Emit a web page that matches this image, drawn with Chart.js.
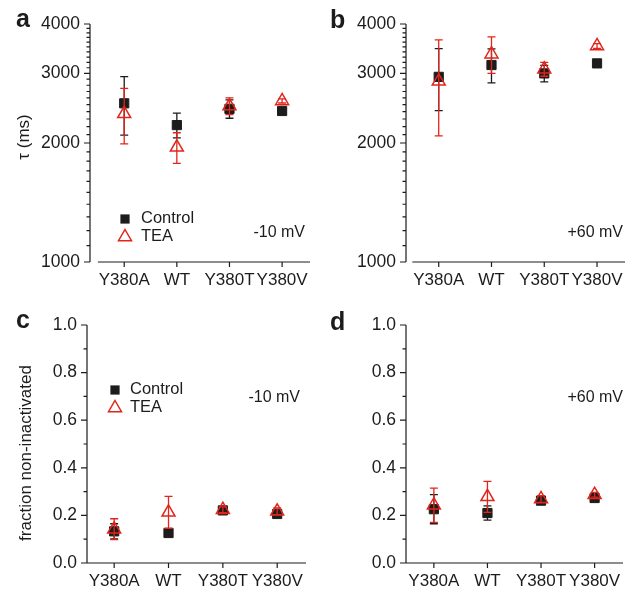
<!DOCTYPE html>
<html>
<head>
<meta charset="utf-8">
<script src="https://cdn.jsdelivr.net/npm/chart.js@4.4.0/dist/chart.umd.min.js"></script>
<style>
  body { margin: 0; background: #fff; }
  #wrap { position: relative; width: 638px; height: 592px; }
  canvas { position: absolute; }
</style>
</head>
<body>
<div id="wrap">
  <canvas id="tauNeg" width="319" height="296" style="left:0;top:0"></canvas>
  <canvas id="tauPos" width="319" height="296" style="left:319px;top:0"></canvas>
  <canvas id="fracNeg" width="319" height="296" style="left:0;top:296px"></canvas>
  <canvas id="fracPos" width="319" height="296" style="left:319px;top:296px"></canvas>
</div>
<script>
const mutants = ['Y380A', 'WT', 'Y380T', 'Y380V'];

// inactivation time constant (ms), mean and SEM
const tauCtrlNeg10 = [2520, 2220, 2440, 2410];
const tauCtrlNeg10Err = [425, 160, 130, 30];
const tauTeaNeg10 = [2370, 1950, 2480, 2555];
const tauTeaNeg10Err = [380, 173, 120, 30];

const tauCtrlPos60 = [2940, 3150, 3000, 3180];
const tauCtrlPos60Err = [525, 312, 145, 60];
const tauTeaPos60 = [2865, 3355, 3075, 3520];
const tauTeaPos60Err = [780, 355, 125, 50];

// fraction of current that does not inactivate, mean and SEM
const fracCtrlNeg10 = [0.133, 0.126, 0.221, 0.206];
const fracCtrlNeg10Err = [0.032, 0.01, 0.01, 0.012];
const fracTeaNeg10 = [0.142, 0.213, 0.224, 0.217];
const fracTeaNeg10Err = [0.044, 0.067, 0.012, 0.014];

const fracCtrlPos60 = [0.226, 0.21, 0.262, 0.273];
const fracCtrlPos60Err = [0.061, 0.03, 0.015, 0.01];
const fracTeaPos60 = [0.243, 0.278, 0.269, 0.287];
const fracTeaPos60Err = [0.072, 0.065, 0.014, 0.01];

// labelled ticks; minor ticks are filled in between
const tauMajor = [1000, 2000, 3000, 4000];
const fracMajor = [0, 0.2, 0.4, 0.6, 0.8, 1.0];

const tauTicks = [];
for (let v = 1000; v <= 4000; v += 100) tauTicks.push({ value: v, major: tauMajor.includes(v) });
const fracTicks = [];
for (let i = 0; i <= 10; i++) fracTicks.push({ value: i / 10, major: fracMajor.includes(i / 10) });

const RED = '#e1251b';
const INK = '#1c1c1c';
const FONT = "'Liberation Sans', Arial, Helvetica, sans-serif";

// vertical SEM bars with caps, drawn just under each dataset's markers
const errorBars = {
  id: 'errorBars',
  beforeDatasetDraw(chart, args) {
    const ds = chart.data.datasets[args.index];
    if (!ds.errors) return;
    const { ctx } = chart;
    const y = chart.scales.y;
    ctx.save();
    ctx.strokeStyle = ds.borderColor;
    ctx.lineWidth = 1.3;
    args.meta.data.forEach((pt, i) => {
      const v = ds.data[i].y, e = ds.errors[i];
      const top = y.getPixelForValue(v + e);
      const bot = y.getPixelForValue(v - e);
      ctx.beginPath();
      ctx.moveTo(pt.x, top); ctx.lineTo(pt.x, bot);
      ctx.moveTo(pt.x - 4, top); ctx.lineTo(pt.x + 4, top);
      ctx.moveTo(pt.x - 4, bot); ctx.lineTo(pt.x + 4, bot);
      ctx.stroke();
    });
    ctx.restore();
  }
};

function drawTriangle(ctx, x, y, r) {
  ctx.beginPath();
  ctx.moveTo(x, y - r);
  ctx.lineTo(x + 0.866 * r, y + 0.5 * r);
  ctx.lineTo(x - 0.866 * r, y + 0.5 * r);
  ctx.closePath();
  ctx.stroke();
}

// axis lines, tick marks, panel letter, voltage note, y title and legend
const frame = {
  id: 'frame',
  afterDraw(chart, args, o) {
    const { ctx, chartArea: area, scales: { x, y } } = chart;
    ctx.save();
    ctx.strokeStyle = INK;
    ctx.lineWidth = 1.2;
    ctx.beginPath();
    ctx.moveTo(area.left, area.top);
    ctx.lineTo(area.left, area.bottom);
    const x0 = o.axisFrom == null ? area.left : x.getPixelForValue(o.axisFrom);
    ctx.moveTo(x0, area.bottom);
    ctx.lineTo(area.right, area.bottom);
    x.ticks.forEach(t => {
      const px = x.getPixelForValue(t.value);
      ctx.moveTo(px, area.bottom);
      ctx.lineTo(px, area.bottom + 5);
    });
    y.ticks.forEach(t => {
      const py = y.getPixelForValue(t.value);
      ctx.moveTo(area.left, py);
      ctx.lineTo(area.left - (t.major ? 6 : 3.5), py);
    });
    ctx.stroke();

    ctx.fillStyle = INK;
    ctx.font = 'bold 25px ' + FONT;
    ctx.textAlign = 'left';
    ctx.textBaseline = 'alphabetic';
    ctx.fillText(o.letter.text, o.letter.x, o.letter.y);

    ctx.font = '16px ' + FONT;
    ctx.textAlign = 'right';
    ctx.textBaseline = 'middle';
    ctx.fillText(o.note.text, o.note.x, o.note.y);

    if (o.yTitle) {
      ctx.save();
      ctx.translate(o.yTitle.x, o.yTitle.y);
      ctx.rotate(-Math.PI / 2);
      ctx.textAlign = 'center';
      ctx.font = '17px ' + FONT;
      ctx.fillText(o.yTitle.text, 0, 0);
      ctx.restore();
    }

    if (o.legend) {
      const L = o.legend;
      const sets = chart.data.datasets;
      ctx.fillStyle = sets[0].backgroundColor;
      ctx.fillRect(L.x - 4.6, L.y - 4.6, 9.2, 9.2);
      ctx.strokeStyle = sets[1].borderColor;
      ctx.lineWidth = 1.5;
      drawTriangle(ctx, L.x, L.y + L.gap + 1, 7.5);
      ctx.fillStyle = INK;
      ctx.font = '16.5px ' + FONT;
      ctx.textAlign = 'left';
      ctx.fillText(sets[0].label, L.textX, L.y - 1);
      ctx.fillText(sets[1].label, L.textX, L.y + L.gap);
    }
    ctx.restore();
  }
};

function makePanel(id, cfg) {
  const toPoints = arr => arr.map((v, i) => ({ x: i, y: v }));
  const yScale = cfg.log ? {
    type: 'logarithmic', min: 1000, max: 4000,
    afterBuildTicks: s => { s.ticks = tauTicks.map(t => ({ ...t })); }
  } : {
    type: 'linear', min: 0, max: 1,
    afterBuildTicks: s => { s.ticks = fracTicks.map(t => ({ ...t })); }
  };
  Object.assign(yScale, {
    grid: { display: false, drawTicks: false },
    border: { display: false },
    afterFit: s => { s.width = cfg.yWidth; },
    ticks: {
      autoSkip: false, padding: 10, color: INK,
      font: { family: FONT, size: 17.5 },
      callback: (v, i, ticks) => ticks[i].major ? (cfg.log ? String(v) : v.toFixed(1)) : ''
    }
  });

  return new Chart(document.getElementById(id), {
    type: 'scatter',
    data: {
      datasets: [
        {
          label: 'Control', data: toPoints(cfg.ctrl), errors: cfg.ctrlErr, order: 2,
          pointStyle: 'rect', pointRadius: 6.5, pointHoverRadius: 6.5,
          backgroundColor: INK, borderColor: INK, borderWidth: 1
        },
        {
          label: 'TEA', data: toPoints(cfg.tea), errors: cfg.teaErr, order: 1,
          pointStyle: 'triangle', pointRadius: 7.5, pointHoverRadius: 7.5,
          backgroundColor: 'rgba(0,0,0,0)', borderColor: RED, borderWidth: 1.5
        }
      ]
    },
    options: {
      responsive: false,
      animation: false,
      devicePixelRatio: 1,
      layout: { padding: cfg.pad },
      plugins: {
        legend: { display: false },
        tooltip: { enabled: false },
        frame: cfg.frame
      },
      scales: {
        x: {
          type: 'linear', min: cfg.xMin, max: 3.53,
          grid: { display: false, drawTicks: false },
          border: { display: false },
          afterBuildTicks: s => { s.ticks = mutants.map((_, i) => ({ value: i })); },
          afterFit: s => { s.height = cfg.xHeight; },
          ticks: {
            autoSkip: false, maxRotation: 0, padding: 8, color: INK,
            font: { family: FONT, size: 17 },
            callback: v => mutants[v]
          }
        },
        y: yScale
      }
    },
    plugins: [errorBars, frame]
  });
}

makePanel('tauNeg', {
  log: true, ctrl: tauCtrlNeg10, ctrlErr: tauCtrlNeg10Err, tea: tauTeaNeg10, teaErr: tauTeaNeg10Err,
  xMin: -0.65, yWidth: 90, xHeight: 34, pad: { left: 0, top: 24, right: 9, bottom: 0 },
  frame: {
    axisFrom: -0.5,
    letter: { text: 'a', x: 16, y: 27 },
    note: { text: '-10 mV', x: 305, y: 233 },
    yTitle: { text: 'τ (ms)', x: 24, y: 137 },
    legend: { x: 125, y: 219, gap: 17, textX: 141 }
  }
});

makePanel('tauPos', {
  log: true, ctrl: tauCtrlPos60, ctrlErr: tauCtrlPos60Err, tea: tauTeaPos60, teaErr: tauTeaPos60Err,
  xMin: -0.62, yWidth: 87, xHeight: 34, pad: { left: 0, top: 24, right: 13, bottom: 0 },
  frame: {
    axisFrom: -0.5,
    letter: { text: 'b', x: 11, y: 28 },
    note: { text: '+60 mV', x: 304, y: 233 }
  }
});

makePanel('fracNeg', {
  log: false, ctrl: fracCtrlNeg10, ctrlErr: fracCtrlNeg10Err, tea: fracTeaNeg10, teaErr: fracTeaNeg10Err,
  xMin: -0.5, yWidth: 87, xHeight: 29, pad: { left: 0, top: 29, right: 13, bottom: 0 },
  frame: {
    letter: { text: 'c', x: 16, y: 32 },
    note: { text: '-10 mV', x: 300, y: 102 },
    yTitle: { text: 'fraction non-inactivated', x: 26, y: 157 },
    legend: { x: 115, y: 94, gap: 17, textX: 130 }
  }
});

makePanel('fracPos', {
  log: false, ctrl: fracCtrlPos60, ctrlErr: fracCtrlPos60Err, tea: fracTeaPos60, teaErr: fracTeaPos60Err,
  xMin: -0.52, yWidth: 87, xHeight: 29, pad: { left: 0, top: 29, right: 15, bottom: 0 },
  frame: {
    letter: { text: 'd', x: 11, y: 34 },
    note: { text: '+60 mV', x: 304, y: 102 }
  }
});
</script>
</body>
</html>
